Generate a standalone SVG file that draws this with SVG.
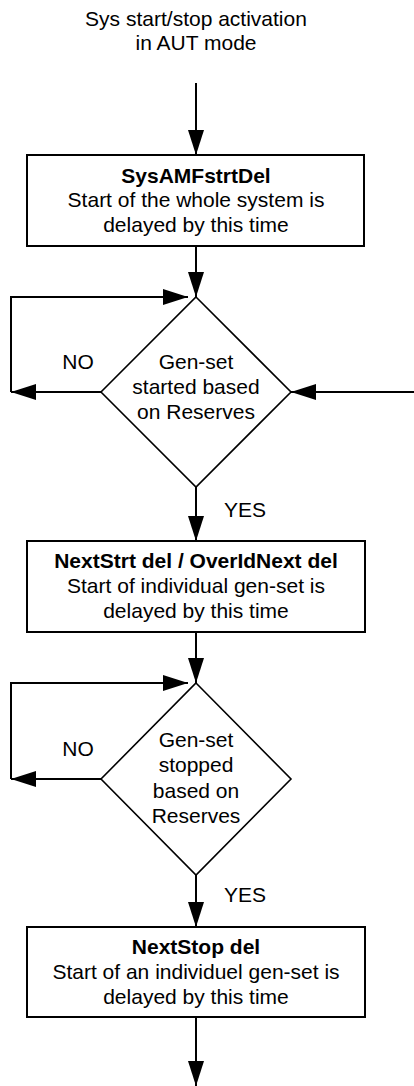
<svg xmlns="http://www.w3.org/2000/svg" width="414" height="1086" viewBox="0 0 414 1086">
  <style>
    text { font-family: "Liberation Sans", Arial, sans-serif; font-size: 21px; fill: #000; text-anchor: middle; }
    .b { font-weight: bold; }
    .box { fill: #fff; stroke: #000; stroke-width: 2; }
    .dia { fill: #fff; stroke: #000; stroke-width: 1.6; }
    .wire { fill: none; stroke: #000; stroke-width: 2; marker-end: url(#arrow); }
  </style>
  <defs>
    <marker id="arrow" markerUnits="userSpaceOnUse" markerWidth="26" markerHeight="18" viewBox="0 0 26 18" refX="25" refY="9" orient="auto">
      <path d="M0,1 L25,9 L0,17 Z" fill="#000"/>
    </marker>
  </defs>
  <rect width="414" height="1086" fill="#fff"/>

  <g id="start-label">
    <text x="196" y="26">Sys start/stop activation</text>
    <text x="196" y="50">in AUT mode</text>
  </g>

  <g id="connectors">
    <path class="wire" d="M196,83 V155"/>
    <path class="wire" d="M196,246 V297"/>
    <path class="wire" d="M101,392 H11"/>
    <path class="wire" d="M11,392 V297 H188"/>
    <path class="wire" d="M414,392 H291"/>
    <path class="wire" d="M196,487 V541"/>
    <path class="wire" d="M196,632 V683"/>
    <path class="wire" d="M101,779 H11"/>
    <path class="wire" d="M11,779 V683 H188"/>
    <path class="wire" d="M196,875 V927"/>
    <path class="wire" d="M196,1017 V1086"/>
    <text x="78" y="369">NO</text>
    <text x="245" y="517">YES</text>
    <text x="78" y="756">NO</text>
    <text x="245" y="902">YES</text>
  </g>

  <g id="sys-delay">
    <rect class="box" x="27" y="155" width="337" height="91"/>
    <text class="b" x="196" y="183">SysAMFstrtDel</text>
    <text x="196" y="207">Start of the whole system is</text>
    <text x="196" y="232">delayed by this time</text>
  </g>

  <g id="start-decision">
    <path class="dia" d="M196,297 L291,392 L196,487 L101,392 Z"/>
    <text x="196" y="369">Gen-set</text>
    <text x="196" y="394">started based</text>
    <text x="196" y="419">on Reserves</text>
  </g>

  <g id="next-start-delay">
    <rect class="box" x="27" y="541" width="338" height="91"/>
    <text class="b" x="196" y="568">NextStrt del / OverIdNext del</text>
    <text x="196" y="593">Start of individual gen-set is</text>
    <text x="196" y="618">delayed by this time</text>
  </g>

  <g id="stop-decision">
    <path class="dia" d="M196,683 L291,779 L196,875 L101,779 Z"/>
    <text x="196" y="747">Gen-set</text>
    <text x="196" y="772">stopped</text>
    <text x="196" y="798">based on</text>
    <text x="196" y="823">Reserves</text>
  </g>

  <g id="next-stop-delay">
    <rect class="box" x="27" y="927" width="338" height="90"/>
    <text class="b" x="196" y="954">NextStop del</text>
    <text x="196" y="979">Start of an individuel gen-set is</text>
    <text x="196" y="1004">delayed by this time</text>
  </g>
</svg>
